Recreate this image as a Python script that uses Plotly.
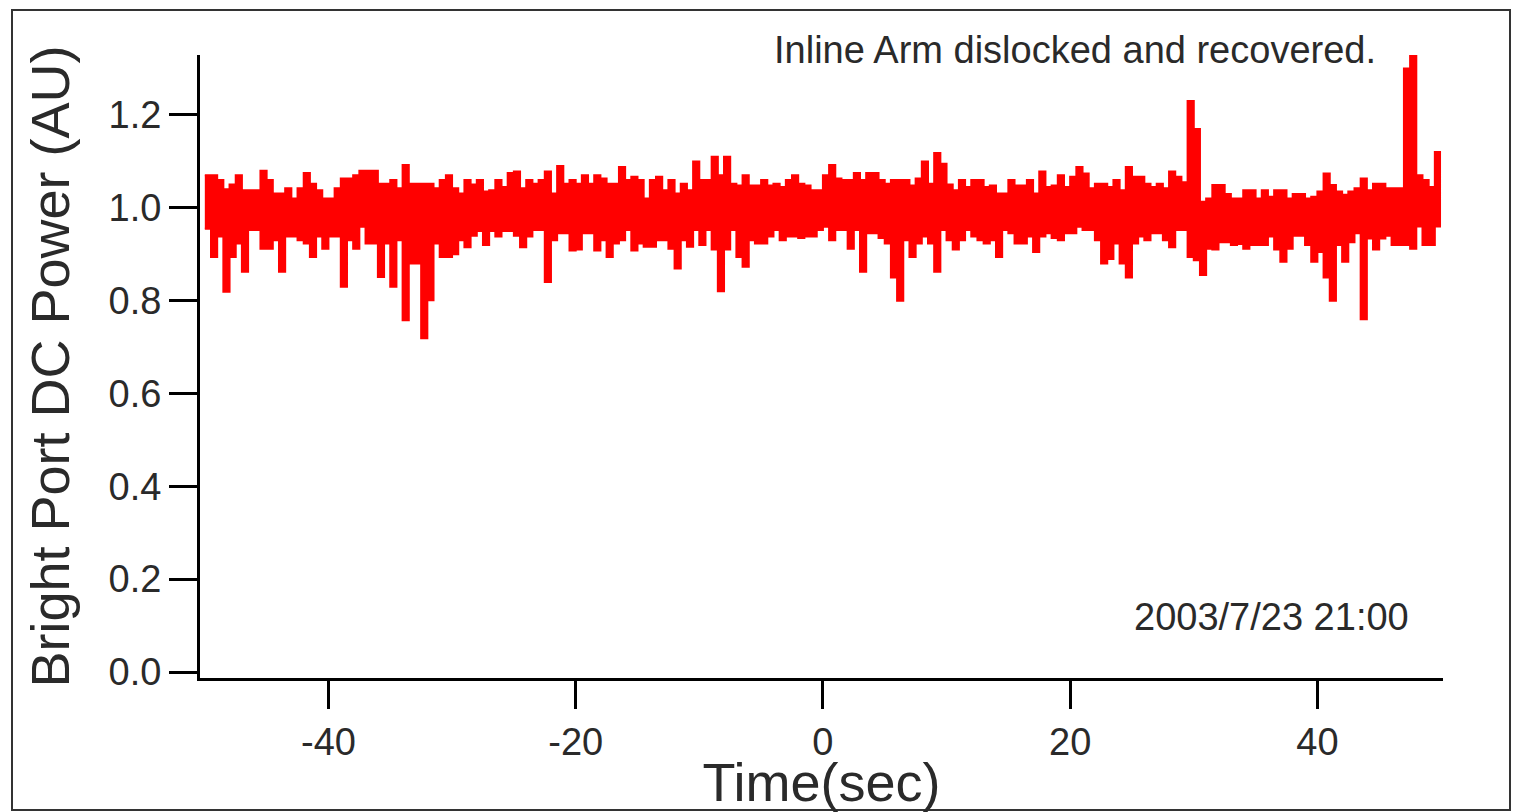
import plotly.graph_objects as go

# Bin start times (s), 0.5 s bins from -50 to 50
bin_start = -50.0
bin_width = 0.5

# Upper envelope of the signal in each 0.5 s bin (AU)
upper = [
    1.07, 1.07, 1.06, 1.04, 1.05, 1.07, 1.038, 1.038, 1.038, 1.08,
    1.06, 1.031, 1.031, 1.042, 1.02, 1.042, 1.075, 1.052, 1.038, 1.02,
    1.02, 1.042, 1.063, 1.063, 1.07, 1.08, 1.08, 1.08, 1.052, 1.052,
    1.06, 1.042, 1.092, 1.052, 1.052, 1.052, 1.052, 1.042, 1.06, 1.07,
    1.042, 1.031, 1.06, 1.05, 1.06, 1.035, 1.038, 1.06, 1.045, 1.075,
    1.078, 1.042, 1.06, 1.052, 1.06, 1.078, 1.031, 1.09, 1.052, 1.06,
    1.052, 1.07, 1.052, 1.07, 1.063, 1.052, 1.052, 1.088, 1.06, 1.067,
    1.06, 1.02, 1.06, 1.067, 1.038, 1.06, 1.031, 1.052, 1.038, 1.10,
    1.06, 1.06, 1.11, 1.07, 1.11, 1.052, 1.048, 1.07, 1.048, 1.048,
    1.06, 1.048, 1.052, 1.045, 1.06, 1.07, 1.052, 1.048, 1.038, 1.038,
    1.07, 1.092, 1.063, 1.06, 1.06, 1.075, 1.06, 1.075, 1.075, 1.06,
    1.052, 1.06, 1.06, 1.06, 1.048, 1.063, 1.10, 1.052, 1.118, 1.095,
    1.05, 1.038, 1.06, 1.045, 1.06, 1.06, 1.045, 1.048, 1.031, 1.031,
    1.06, 1.048, 1.048, 1.06, 1.031, 1.078, 1.045, 1.048, 1.07, 1.045,
    1.067, 1.088, 1.074, 1.042, 1.052, 1.052, 1.045, 1.06, 1.038, 1.088,
    1.067, 1.067, 1.052, 1.045, 1.052, 1.042, 1.078, 1.067, 1.055, 1.23,
    1.17, 1.013, 1.02, 1.049, 1.049, 1.03, 1.02, 1.02, 1.038, 1.038,
    1.02, 1.038, 1.024, 1.038, 1.038, 1.02, 1.03, 1.03, 1.02, 1.024,
    1.035, 1.074, 1.049, 1.035, 1.028, 1.035, 1.042, 1.063, 1.038, 1.052,
    1.052, 1.042, 1.042, 1.042, 1.30, 1.333, 1.07, 1.06, 1.045, 1.12,
]

# Lower envelope of the signal in each 0.5 s bin (AU)
lower = [
    0.955, 0.894, 0.938, 0.819, 0.894, 0.923, 0.862, 0.952, 0.952, 0.912,
    0.912, 0.93, 0.862, 0.938, 0.938, 0.93, 0.923, 0.894, 0.938, 0.912,
    0.938, 0.938, 0.83, 0.93, 0.912, 0.959, 0.923, 0.923, 0.851, 0.923,
    0.83, 0.93, 0.758, 0.88, 0.88, 0.719, 0.801, 0.923, 0.894, 0.894,
    0.90, 0.93, 0.915, 0.94, 0.95, 0.92, 0.95, 0.938, 0.95, 0.95,
    0.94, 0.915, 0.938, 0.952, 0.952, 0.84, 0.93, 0.945, 0.945, 0.908,
    0.91, 0.945, 0.945, 0.908, 0.93, 0.894, 0.923, 0.93, 0.952, 0.908,
    0.923, 0.916, 0.916, 0.93, 0.93, 0.912, 0.869, 0.93, 0.916, 0.952,
    0.92, 0.952, 0.91, 0.82, 0.91, 0.952, 0.894, 0.873, 0.93, 0.923,
    0.923, 0.938, 0.952, 0.93, 0.938, 0.938, 0.935, 0.938, 0.938, 0.952,
    0.959, 0.93, 0.952, 0.952, 0.912, 0.952, 0.862, 0.945, 0.945, 0.935,
    0.923, 0.85, 0.80, 0.93, 0.894, 0.923, 0.938, 0.923, 0.862, 0.952,
    0.93, 0.91, 0.93, 0.952, 0.938, 0.93, 0.923, 0.93, 0.894, 0.952,
    0.945, 0.923, 0.923, 0.938, 0.905, 0.938, 0.945, 0.935, 0.93, 0.945,
    0.945, 0.959, 0.952, 0.952, 0.93, 0.88, 0.89, 0.923, 0.88, 0.85,
    0.923, 0.938, 0.93, 0.945, 0.945, 0.93, 0.915, 0.952, 0.952, 0.894,
    0.887, 0.855, 0.912, 0.91, 0.926, 0.926, 0.92, 0.922, 0.912, 0.92,
    0.92, 0.92, 0.938, 0.91, 0.884, 0.912, 0.94, 0.94, 0.92, 0.884,
    0.905, 0.85, 0.80, 0.92, 0.884, 0.926, 0.945, 0.76, 0.934, 0.91,
    0.934, 0.94, 0.92, 0.92, 0.92, 0.912, 0.96, 0.92, 0.92, 0.96,
]

x_ticks = [-40, -20, 0, 20, 40]
y_ticks = [0.0, 0.2, 0.4, 0.6, 0.8, 1.0, 1.2]

x_title = "Time(sec)"
y_title = "Bright Port DC Power (AU)"
note_top = "Inline Arm dislocked and recovered."
note_date = "2003/7/23 21:00"

# time axis: bin edges (last point repeats final value to close the step)
times = [bin_start + bin_width * i for i in range(len(upper) + 1)]
up_y = upper + [upper[-1]]
lo_y = lower + [lower[-1]]

RED = "rgb(255,0,0)"
FONT = "Liberation Sans, Arial, Helvetica, sans-serif"
TXT = "#2a2a2a"

fig = go.Figure()
fig.add_trace(go.Scatter(x=times, y=up_y, mode="lines", line=dict(color=RED, width=2, shape="hv"),
                         hoverinfo="skip"))
fig.add_trace(go.Scatter(x=times, y=lo_y, mode="lines", line=dict(color=RED, width=2, shape="hv"),
                         fill="tonexty", fillcolor=RED, hoverinfo="skip"))

L, R, T, B = 200, 1443, 55, 678
W, H = 1521, 812
pw, ph = R - L, B - T

def px(xp):
    return (xp - L) / pw

def py(yp):
    return (B - yp) / ph

fig.update_layout(
    width=W, height=H,
    margin=dict(l=L, r=W - R, t=T, b=H - B, autoexpand=False),
    paper_bgcolor="white", plot_bgcolor="white",
    showlegend=False,
    font=dict(family=FONT, color=TXT),
    xaxis=dict(
        range=[-50.39, 50.16], tickvals=x_ticks, ticktext=[str(v) for v in x_ticks],
        ticks="outside", ticklen=28, tickwidth=3, tickcolor="black",
        showline=True, linewidth=3, linecolor="black", mirror=False,
        showgrid=False, zeroline=False,
        tickfont=dict(size=38, family=FONT, color=TXT),
        title=dict(text=x_title, font=dict(size=54, family=FONT, color=TXT), standoff=0),
    ),
    yaxis=dict(
        range=[-0.0129, 1.3292], tickvals=y_ticks, ticktext=[f"{v:.1f}" for v in y_ticks],
        ticks="outside", ticklen=28, tickwidth=3, tickcolor="black",
        showline=True, linewidth=3, linecolor="black", mirror=False,
        showgrid=False, zeroline=False,
        tickfont=dict(size=38, family=FONT, color=TXT),
        title=dict(text=y_title, font=dict(size=54, family=FONT, color=TXT), standoff=22),
    ),
    annotations=[
        dict(text=note_top, xref="paper", yref="paper", x=px(1378), y=py(50),
             xanchor="right", yanchor="middle", showarrow=False,
             font=dict(size=38, family=FONT, color=TXT)),
        dict(text=note_date, xref="paper", yref="paper", x=px(1411), y=py(617),
             xanchor="right", yanchor="middle", showarrow=False,
             font=dict(size=38, family=FONT, color=TXT)),
    ],
    shapes=[
        dict(type="rect", xref="paper", yref="paper",
             x0=px(12), x1=px(1510), y0=py(810), y1=py(10),
             line=dict(color="#333333", width=2), fillcolor="rgba(0,0,0,0)", layer="below"),
    ],
)

fig.write_html("out.html")
